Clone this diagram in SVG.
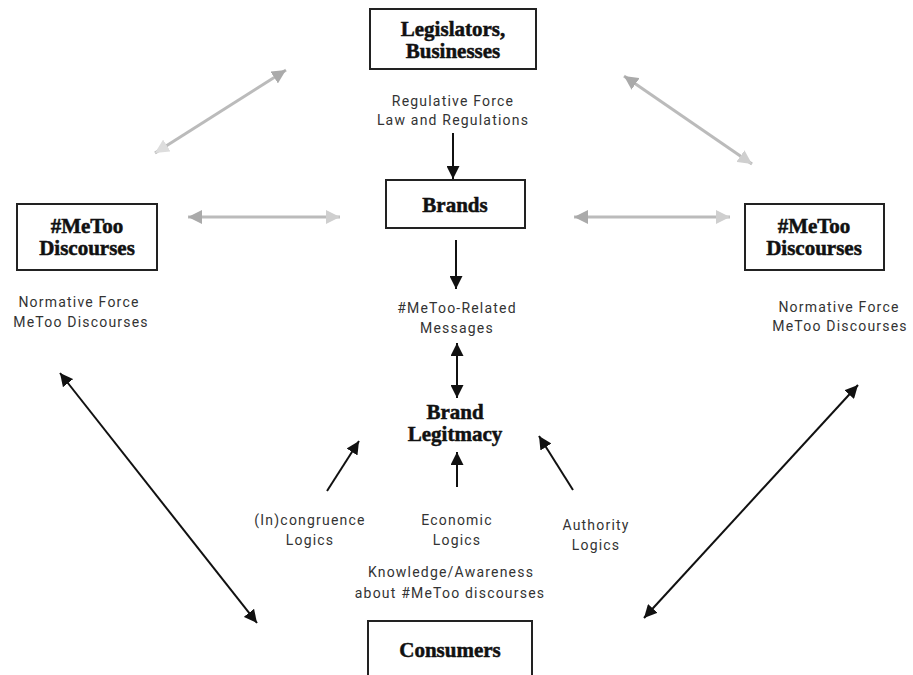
<svg xmlns="http://www.w3.org/2000/svg" width="913" height="675" viewBox="0 0 913 675">
<style>
.box{fill:#fff;stroke:#222;stroke-width:2}
.hd{font-family:"Liberation Serif","DejaVu Serif",serif;font-weight:bold;font-size:21px;fill:#111;stroke:#111;stroke-width:0.5;text-anchor:middle}
.lb{font-family:Roboto,"Liberation Sans",sans-serif;font-size:14px;fill:#333;text-anchor:middle;letter-spacing:1.2px}
.blk{stroke:#111;stroke-width:2;fill:none}
.gry{stroke:#bbb;stroke-width:3;fill:none}
</style>
<defs>
<marker id="ab" viewBox="0 0 10 10" refX="10" refY="5" markerWidth="13" markerHeight="13" markerUnits="userSpaceOnUse" orient="auto-start-reverse"><path d="M0,0 L10,5 L0,10 z" fill="#111"/></marker>
<marker id="gd" viewBox="0 0 10 10" refX="10" refY="5" markerWidth="14" markerHeight="14" markerUnits="userSpaceOnUse" orient="auto-start-reverse"><path d="M0,0 L10,5 L0,10 z" fill="#aaa"/></marker>
<marker id="gl" viewBox="0 0 10 10" refX="10" refY="5" markerWidth="14" markerHeight="14" markerUnits="userSpaceOnUse" orient="auto-start-reverse"><path d="M0,0 L10,5 L0,10 z" fill="#cfcfcf"/></marker>
<marker id="gx" viewBox="0 0 10 10" refX="10" refY="5" markerWidth="14" markerHeight="14" markerUnits="userSpaceOnUse" orient="auto-start-reverse"><path d="M0,0 L10,5 L0,10 z" fill="#ddd"/></marker>
</defs>
<g id="connectors">
<line class="gry" x1="155" y1="153" x2="286" y2="70" marker-start="url(#gx)" marker-end="url(#gd)"/>
<line class="gry" x1="624" y1="76" x2="752" y2="164" marker-start="url(#gd)" marker-end="url(#gl)"/>
<line class="gry" x1="188" y1="217" x2="340" y2="217" marker-start="url(#gd)" marker-end="url(#gl)"/>
<line class="gry" x1="574" y1="217" x2="730" y2="217" marker-start="url(#gd)" marker-end="url(#gl)"/>
<line class="blk" x1="453" y1="133" x2="453" y2="179" marker-end="url(#ab)"/>
<line class="blk" x1="456" y1="240" x2="456" y2="289" marker-end="url(#ab)"/>
<line class="blk" x1="457" y1="343" x2="457" y2="398" marker-start="url(#ab)" marker-end="url(#ab)"/>
<line class="blk" x1="457" y1="487" x2="457" y2="452" marker-end="url(#ab)"/>
<line class="blk" x1="327" y1="491" x2="359" y2="441" marker-end="url(#ab)"/>
<line class="blk" x1="573" y1="490" x2="539" y2="436" marker-end="url(#ab)"/>
<line class="blk" x1="60" y1="373" x2="257" y2="623" marker-start="url(#ab)" marker-end="url(#ab)"/>
<line class="blk" x1="858" y1="385" x2="644" y2="618" marker-start="url(#ab)" marker-end="url(#ab)"/>
</g>
<g id="legislators">
<rect class="box" x="370" y="9" width="166" height="60"/>
<text class="hd" x="453" y="36">Legislators,</text>
<text class="hd" x="453" y="58">Businesses</text>
</g>
<g id="regulative-label">
<text class="lb" x="453" y="106">Regulative Force</text>
<text class="lb" x="453" y="125">Law and Regulations</text>
</g>
<g id="brands">
<rect class="box" x="386" y="180" width="139" height="48"/>
<text class="hd" x="455" y="212">Brands</text>
</g>
<g id="messages">
<text class="lb" x="457" y="313">#MeToo-Related</text>
<text class="lb" x="457" y="333">Messages</text>
</g>
<g id="legitimacy">
<text class="hd" x="455" y="419">Brand</text>
<text class="hd" x="455" y="441">Legitmacy</text>
</g>
<g id="metoo-left">
<rect class="box" x="17" y="204" width="140" height="66"/>
<text class="hd" x="87" y="233">#MeToo</text>
<text class="hd" x="87" y="255">Discourses</text>
</g>
<g id="normative-left">
<text class="lb" x="79" y="307">Normative Force</text>
<text class="lb" x="81" y="327">MeToo Discourses</text>
</g>
<g id="metoo-right">
<rect class="box" x="745" y="204" width="139" height="66"/>
<text class="hd" x="814" y="233">#MeToo</text>
<text class="hd" x="814" y="255">Discourses</text>
</g>
<g id="normative-right">
<text class="lb" x="839" y="312">Normative Force</text>
<text class="lb" x="840" y="331">MeToo Discourses</text>
</g>
<g id="incongruence">
<text class="lb" x="310" y="525">(In)congruence</text>
<text class="lb" x="310" y="545">Logics</text>
</g>
<g id="economic">
<text class="lb" x="457" y="525">Economic</text>
<text class="lb" x="457" y="545">Logics</text>
</g>
<g id="authority">
<text class="lb" x="596" y="530">Authority</text>
<text class="lb" x="596" y="550">Logics</text>
</g>
<g id="knowledge">
<text class="lb" x="451" y="577">Knowledge/Awareness</text>
<text class="lb" x="450" y="598">about #MeToo discourses</text>
</g>
<g id="consumers">
<rect class="box" x="368" y="621" width="164" height="70"/>
<text class="hd" x="450" y="657">Consumers</text>
</g>
</svg>
